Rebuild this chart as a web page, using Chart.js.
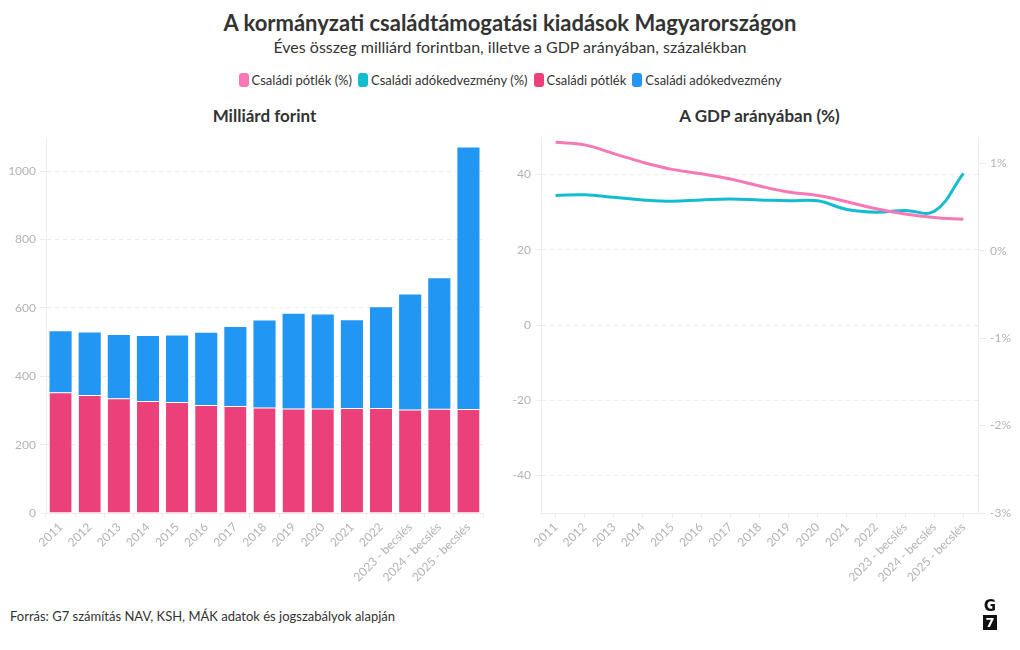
<!DOCTYPE html>
<html><head><meta charset="utf-8">
<script src="https://cdn.jsdelivr.net/npm/chart.js@4.4.1/dist/chart.umd.min.js"></script>
<style>
body{margin:0;width:1020px;height:650px;background:#fff;font-family:Lato,"Noto Sans",sans-serif;position:relative;overflow:hidden;color:#333}
#title{position:absolute;top:9px;left:0;width:1020px;text-align:center;font-weight:bold;font-size:22px;color:#333}
#subtitle{position:absolute;top:37px;left:0;width:1020px;text-align:center;font-size:16px;color:#333}
#legend{position:absolute;top:72px;left:0;width:1020px;text-align:center;font-size:13px;color:#333}
#legend span.it{display:inline-block;margin:0 3px}
#legend i{display:inline-block;width:10px;height:14px;border-radius:3px;vertical-align:-2px;margin-right:3px}
.sub{position:absolute;top:105px;text-align:center;font-weight:bold;font-size:17px;color:#333}
#footer{position:absolute;top:608px;left:10px;font-size:13px;color:#333}
#logo{position:absolute;left:982px;top:598px;width:16px;text-align:center;font-weight:bold;font-family:"DejaVu Sans",sans-serif}
#logo .g{font-size:15px;line-height:16px;color:#111}
#logo .s{display:block;width:14px;height:15px;background:#111;color:#fff;font-size:13px;line-height:15px;margin:1px auto 0}
#c1wrap{position:absolute;left:0;top:100px;width:500px;height:500px}
#c2wrap{position:absolute;left:500px;top:100px;width:520px;height:500px}
</style></head>
<body>
<div id="title">A kormányzati családtámogatási kiadások Magyarországon</div>
<div id="subtitle">Éves összeg milliárd forintban, illetve a GDP arányában, százalékban</div>
<div id="legend"></div>
<div class="sub" style="left:46px;width:437px">Milliárd forint</div>
<div class="sub" style="left:541px;width:437px">A GDP arányában (%)</div>
<div id="c1wrap"><canvas id="c1" width="500" height="500"></canvas></div>
<div id="c2wrap"><canvas id="c2" width="520" height="500"></canvas></div>
<div id="footer">Forrás: G7 számítás NAV, KSH, MÁK adatok és jogszabályok alapján</div>
<div id="logo"><div class="g">G</div><span class="s">7</span></div>
<script>
const categories = ["2011","2012","2013","2014","2015","2016","2017","2018","2019","2020","2021","2022","2023 - becslés","2024 - becslés","2025 - becslés"];
const csaladiPotlek = [353,345,336,328,325,316,313,309,306,306,307,307,303,305,304];
const csaladiAdokedvezmeny = [179,183,185,190,194,211,231,254,277,275,257,295,336,382,765];
const csaladiPotlekPct = [1.24,1.21,1.11,1.01,0.93,0.88,0.82,0.74,0.67,0.63,0.56,0.48,0.42,0.38,0.36];
const csaladiAdokedvezmenyPct = [0.63,0.64,0.61,0.58,0.565,0.58,0.59,0.58,0.57,0.57,0.47,0.44,0.46,0.45,0.885];
const barTicks = [0,200,400,600,800,1000];
const leftTicks = [-40,-20,0,20,40];
const rightTicks = [-3,-2,-1,0,1];
const seriesNames = ["Családi pótlék (%)","Családi adókedvezmény (%)","Családi pótlék","Családi adókedvezmény"];
const seriesColors = ["#F579B4","#13BCD0","#EC407A","#2196F3"];

const leg = document.getElementById('legend');
seriesNames.forEach((n,i)=>{
  const s=document.createElement('span');s.className='it';
  s.innerHTML='<i style="background:'+seriesColors[i]+'"></i>'+n;
  leg.appendChild(s);
});

const tickFont = {family:'Lato', size:12};
const tickColor = '#b3b3b3';
const gridColor = '#ececec';

new Chart(document.getElementById('c1'), {
  type:'bar',
  data:{labels:categories, datasets:[
    {label:seriesNames[2], data:csaladiPotlek, backgroundColor:seriesColors[2], borderColor:'rgba(255,255,255,0.6)', borderWidth:{top:1}, borderSkipped:'bottom', categoryPercentage:1, barPercentage:0.76},
    {label:seriesNames[3], data:csaladiAdokedvezmeny, backgroundColor:seriesColors[3], borderWidth:0, categoryPercentage:1, barPercentage:0.76}
  ]},
  options:{
    responsive:false, animation:false,
    layout:{padding:{left:0,right:17,top:37,bottom:0}},
    plugins:{legend:{display:false}, tooltip:{enabled:false}},
    scales:{
      x:{stacked:true, afterFit:s=>{s.height=87;}, grid:{drawOnChartArea:false, color:gridColor, tickLength:5}, border:{color:gridColor},
         ticks:{color:tickColor,font:tickFont,minRotation:45,maxRotation:45,padding:2}},
      y:{stacked:true, min:0, max:1100, afterFit:s=>{s.width=46;}, afterBuildTicks:s=>{s.ticks=barTicks.map(v=>({value:v}));},
         grid:{color:gridColor, tickLength:6}, border:{color:gridColor, dash:[4,4]},
         ticks:{color:tickColor,font:tickFont,padding:4,callback:v=>String(v)}}
    }
  }
});

new Chart(document.getElementById('c2'), {
  type:'line',
  data:{labels:categories, datasets:[
    {label:seriesNames[0], data:csaladiPotlekPct, borderColor:seriesColors[0], backgroundColor:seriesColors[0], borderWidth:3, pointRadius:0, tension:0.4, yAxisID:'y1'},
    {label:seriesNames[1], data:csaladiAdokedvezmenyPct, borderColor:seriesColors[1], backgroundColor:seriesColors[1], borderWidth:3, pointRadius:0, tension:0.4, yAxisID:'y1'}
  ]},
  options:{
    responsive:false, animation:false,
    layout:{padding:{left:0,right:0,top:37,bottom:0}},
    plugins:{legend:{display:false}, tooltip:{enabled:false}},
    scales:{
      x:{offset:true, afterFit:s=>{s.height=87;}, grid:{drawOnChartArea:false, color:gridColor, tickLength:5, offset:false}, border:{color:gridColor},
         ticks:{color:tickColor,font:tickFont,minRotation:45,maxRotation:45,padding:2}},
      y:{position:'left', min:-50, max:50, afterFit:s=>{s.width=41;}, afterBuildTicks:s=>{s.ticks=leftTicks.map(v=>({value:v}));},
         grid:{color:gridColor, tickLength:6}, border:{color:gridColor, dash:[4,4]},
         ticks:{color:tickColor,font:tickFont,padding:4}},
      y1:{position:'right', min:-3, max:1.3, afterFit:s=>{s.width=42;}, afterBuildTicks:s=>{s.ticks=rightTicks.map(v=>({value:v}));},
         grid:{drawOnChartArea:false, color:gridColor, tickLength:8}, border:{color:gridColor},
         ticks:{color:tickColor,font:tickFont,padding:4,callback:v=>v+'%'}}
    }
  }
});
</script>
</body></html>
